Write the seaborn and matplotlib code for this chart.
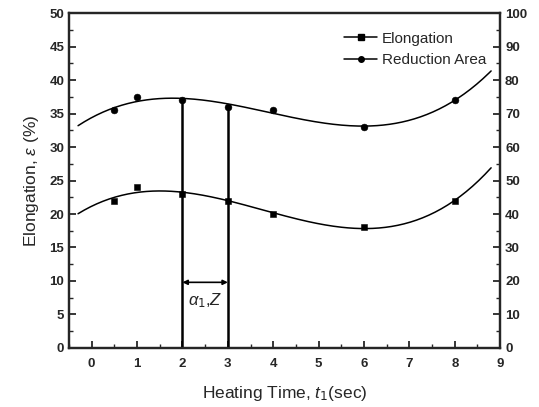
import matplotlib.pyplot as plt
import seaborn as sns
import pandas as pd
import numpy as np
from matplotlib.ticker import MultipleLocator

# values
heat_time = [0.5, 1, 2, 3, 4, 6, 8]
elongation = [22, 24, 23, 22, 20, 18, 22]            # left axis, %
reduction_area = [71, 75, 74, 72, 71, 66, 74]       # right axis, %
marked_times = [2, 3]

sns.set_style("ticks")
plt.rcParams['font.family'] = ['Liberation Sans', 'DejaVu Sans']
plt.rcParams['mathtext.fontset'] = 'custom'
plt.rcParams['mathtext.it'] = 'Liberation Sans:italic'

df = pd.DataFrame({"t": heat_time, "el": elongation, "ra": reduction_area})

fig = plt.figure(figsize=(5.39, 4.07), dpi=100)
ax = fig.add_axes([0.128, 0.145, 0.8, 0.823])
ax2 = ax.twinx()

# cubic fit curves through the measured points
t_fit = np.linspace(-0.3, 8.8, 200)
el_fit = np.polyval(np.polyfit(df.t, df.el, 3), t_fit)
ra_fit = np.polyval(np.polyfit(df.t, df.ra, 3), t_fit)

sns.lineplot(x=t_fit, y=el_fit, ax=ax, color='black', lw=1.1)
sns.lineplot(x=t_fit, y=ra_fit, ax=ax2, color='black', lw=1.1)
sns.scatterplot(data=df, x="t", y="el", ax=ax, marker='s', s=22, color='black', edgecolor='black')
sns.scatterplot(data=df, x="t", y="ra", ax=ax2, marker='o', s=24, color='black', edgecolor='black')

# vertical markers and the arrow between them
for t in marked_times:
    top = df.loc[df.t == t, "ra"].values[0]
    ax2.plot([t, t], [0, top], color='black', lw=1.8)
ax.annotate('', xy=(marked_times[0], 9.8), xytext=(marked_times[1], 9.8),
            arrowprops=dict(arrowstyle='<|-|>', color='black', lw=1.2,
                            mutation_scale=7, shrinkA=0, shrinkB=0))
ax.text(2.5, 7.0, r'$\alpha_1$,$Z$', ha='center', va='center', fontsize=12)

ax.set_xlim(-0.5, 9)
ax.set_ylim(0, 50)
ax2.set_ylim(0, 100)
ax.xaxis.set_major_locator(MultipleLocator(1))
ax.xaxis.set_minor_locator(MultipleLocator(0.5))
ax.yaxis.set_major_locator(MultipleLocator(5))
ax.yaxis.set_minor_locator(MultipleLocator(2.5))
ax2.yaxis.set_major_locator(MultipleLocator(10))
ax2.yaxis.set_minor_locator(MultipleLocator(5))

for a in (ax, ax2):
    a.tick_params(which='major', direction='in', length=5, width=1.3, labelsize=9.5)
    a.tick_params(which='minor', direction='in', length=3, width=1.0)
    a.set_xlabel('')
    a.set_ylabel('')
    for s in a.spines.values():
        s.set_linewidth(1.6)
ax.tick_params(axis='x', pad=7)
for lab in ax.get_xticklabels() + ax.get_yticklabels() + ax2.get_yticklabels():
    lab.set_fontweight('bold')

ax.set_xlabel(r'Heating Time, $t_1$(sec)', fontsize=12.5, labelpad=10)
ax.set_ylabel(r'Elongation, $\varepsilon$ (%)', fontsize=12.5, labelpad=6)

# legend
h1, = ax.plot([], [], color='black', marker='s', ms=4, lw=1.1)
h2, = ax.plot([], [], color='black', marker='o', ms=4, lw=1.1)
ax.legend([h1, h2], ['Elongation', 'Reduction Area'], loc='upper right',
          bbox_to_anchor=(1.0, 0.985), frameon=False, fontsize=11,
          handlelength=2.2, handletextpad=0.3, labelspacing=0.5)

fig.savefig('out.png', dpi=100)
